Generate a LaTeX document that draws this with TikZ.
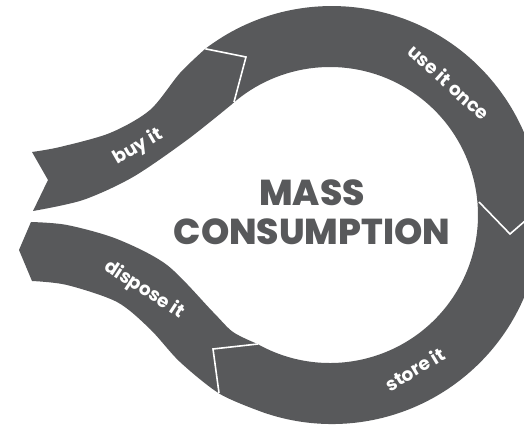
\documentclass[tikz,border=0pt]{standalone}
\usepackage{fontspec}
\setmainfont{Poppins}
\newfontfamily\heavyfont{Poppins ExtraBold}
\definecolor{band}{HTML}{58595B}
\begin{document}
\begin{tikzpicture}[x=1pt,y=1pt,
  bandfill/.style={fill=band},
  sepline/.style={draw=white,line width=1.6pt,line join=miter},
  steplabel/.style={text=white,font=\bfseries\fontsize{18.5}{18.5}\selectfont,inner sep=0pt},
  titletext/.style={text=band,font=\heavyfont\fontsize{36}{39}\selectfont,inner sep=0pt}]
\useasboundingbox (0,0) rectangle (524,425);
\clip (0,0) rectangle (524,425);
\fill[bandfill] (32,273) -- plot[smooth] coordinates {(32,273) (60,278) (110,292) (150,315) (180,352) (205.3,376.2)}
  arc[start angle=127.3,end angle=-109.6,radius=209]
  -- plot[smooth] coordinates {(261.8,13.1) (220,31) (180,63) (150,96) (117,123) (67,140) (32,144)}
  -- (19,175) -- (31,203)
  -- plot[smooth] coordinates {(31,203) (67,200) (117,186) (167,160) (213,113) (233,93) (257.1,81.2)}
  arc[start angle=240.5,end angle=491.7,radius=148]
  -- plot[smooth] coordinates {(231.6,320.5) (187,285) (133,248) (83,225) (33,214)}
  -- (48,245) -- cycle;
\draw[sepline] (205.3,376.2) -- (246,368) -- (234,323);
\draw[sepline] (479,223) -- (510,191) -- (540,217);
\draw[sepline] (258,81) -- (213,76) -- (219,32);
\node[steplabel,rotate=30] (buy) at (138,278) {buy it};
\node[steplabel,rotate=-42] (use) at (449,343) {use it once};
\node[steplabel,rotate=31] (store) at (415,56) {store it};
\node[steplabel,rotate=-33] (dispose) at (144,135) {dispose it};
\node[titletext] (mass) at (312,232) {MASS};
\node[titletext] (cons) at (312,193) {CONSUMPTION};
\end{tikzpicture}
\end{document}
